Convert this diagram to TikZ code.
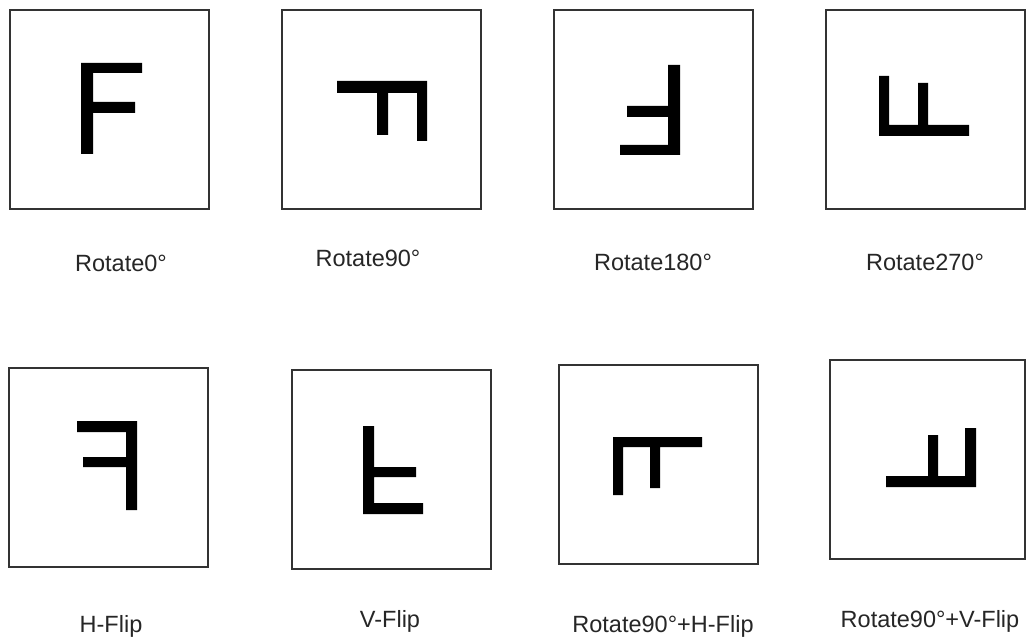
\documentclass[tikz,border=0pt]{standalone}
\usepackage{fontspec}
\setmainfont{Liberation Sans}
\begin{document}
\begin{tikzpicture}[x=1pt,y=-1pt,
  frame/.style={draw=black!80,line width=2pt,minimum width=199pt,minimum height=199pt,inner sep=0pt,fill=white},
  stroke/.style={fill=black},
  caption/.style={anchor=base,font=\fontsize{23.5}{26}\selectfont,text=black!85,inner sep=0pt}]
\useasboundingbox[fill=white] (0,0) rectangle (1027,639);
% frames
\node[frame] (b1) at (109.5,109.5) {};
\node[frame] (b2) at (381.5,109.5) {};
\node[frame] (b3) at (653.5,109.5) {};
\node[frame] (b4) at (925.5,109.5) {};
\node[frame] (b5) at (108.5,467) {};
\node[frame] (b6) at (391.5,469.5) {};
\node[frame] (b7) at (658.5,464) {};
\node[frame,minimum width=195pt] (b8) at (927.5,459) {};
% glyphs
\fill[stroke] (81,63) rectangle (93,154) (81,63) rectangle (142,73) (81,102) rectangle (135,113);
\fill[stroke] (337,81) rectangle (427,93) (417,81) rectangle (427,141) (377,81) rectangle (388,135);
\fill[stroke] (668,65) rectangle (680,155) (620,145) rectangle (680,155) (627,106) rectangle (680,117);
\fill[stroke] (879,125) rectangle (969,136) (879,76) rectangle (889,136) (918,83) rectangle (928,136);
\fill[stroke] (77,421) rectangle (137,432) (126,421) rectangle (137,510) (83,457) rectangle (137,467);
\fill[stroke] (363,426) rectangle (374,514) (363,503) rectangle (423,514) (363,467) rectangle (416,477);
\fill[stroke] (613,437) rectangle (702,447) (613,437) rectangle (623,495) (650,437) rectangle (660,488);
\fill[stroke] (886,476) rectangle (976,487) (965,428) rectangle (976,487) (928,435) rectangle (938,487);
% captions
\node[caption] (l1) at (121,271) {Rotate0°};
\node[caption] (l2) at (368,266) {Rotate90°};
\node[caption] (l3) at (653,270) {Rotate180°};
\node[caption] (l4) at (925,270) {Rotate270°};
\node[caption] (l5) at (111,632) {H-Flip};
\node[caption] (l6) at (390,627) {V-Flip};
\node[caption] (l7) at (663,632) {Rotate90°+H-Flip};
\node[caption] (l8) at (930,627) {Rotate90°+V-Flip};
\end{tikzpicture}
\end{document}
